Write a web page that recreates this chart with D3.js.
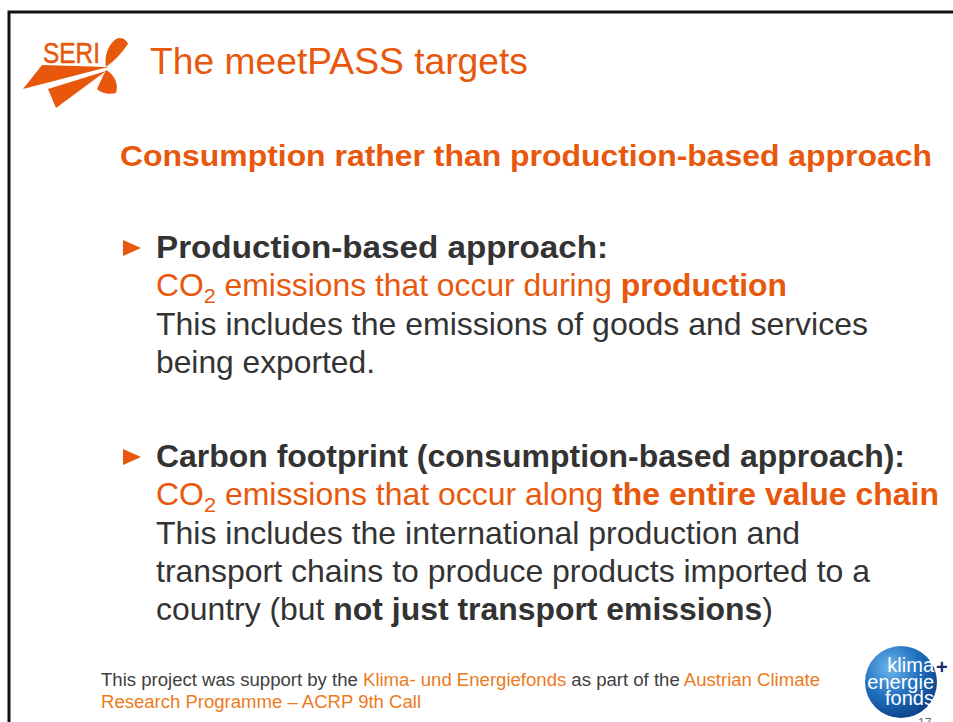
<!DOCTYPE html>
<html><head><meta charset="utf-8">
<script src="https://cdn.jsdelivr.net/npm/d3@7"></script>
<style>html,body{margin:0;padding:0;background:#fff;}svg{display:block;font-family:"Liberation Sans",Arial,sans-serif;}</style>
</head><body>
<script>
// ---- content ----
const titleText = "The meetPASS targets";
const subtitleText = "Consumption rather than production-based approach";
// segments: [text, style]
const bullet1 = [
  [["Production-based approach:", "b"]],
  [["CO", "o"], ["2", "sub"], [" emissions that occur during ", "o"], ["production", "ob"]],
  [["This includes the emissions of goods and services", "n"]],
  [["being exported.", "n"]]
];
const bullet2 = [
  [["Carbon footprint (consumption-based approach):", "b"]],
  [["CO", "o"], ["2", "sub"], [" emissions that occur along ", "o"], ["the entire value chain", "ob"]],
  [["This includes the international production and", "n"]],
  [["transport chains to produce products imported to a", "n"]],
  [["country (but ", "n"], ["not just transport emissions", "b"], [")", "n"]]
];
const footer = [
  [["This project was support by the ", "g"], ["Klima- und Energiefonds", "fo"], [" as part of the ", "g"], ["Austrian Climate", "fo"]],
  [["Research Programme \u2013 ACRP 9th Call", "fo"]]
];
const logoWords = ["klima", "energie", "fonds"];
const pageNumber = "17";

// ---- layout (line widths in px as measured on the slide) ----
const bullet1Widths = [452, 631, 712, 219];
const bullet2Widths = [749, 783, 644, 714, 617];
const footerWidths = [719, 320];

const W = 953, H = 722;
const ORANGE = "#e8580c", DARK = "#333333", FOOT_OR = "#ec7a1c", FOOT_G = "#404040";
const styles = {
  b: {fill: DARK, weight: "bold"},
  n: {fill: DARK, weight: "normal"},
  o: {fill: ORANGE, weight: "normal"},
  ob: {fill: ORANGE, weight: "bold"},
  sub: {fill: ORANGE, weight: "normal", sub: true},
  g: {fill: FOOT_G, weight: "normal"},
  fo: {fill: FOOT_OR, weight: "normal"}
};

const svg = d3.select("body").append("svg").attr("width", W).attr("height", H);
svg.append("rect").attr("width", W).attr("height", H).attr("fill", "#fff");

// slide border
svg.append("path").attr("d", `M9,${H + 5}V12H${W + 5}`).attr("fill", "none")
  .attr("stroke", "#111").attr("stroke-width", 3);

// title + subtitle
svg.append("text").attr("x", 150).attr("y", 74).attr("font-size", 36.5).attr("fill", ORANGE)
  .attr("textLength", 378).attr("lengthAdjust", "spacingAndGlyphs").text(titleText);
svg.append("text").attr("x", 120).attr("y", 166).attr("font-size", 29.5).attr("font-weight", "bold")
  .attr("fill", ORANGE).attr("textLength", 812).attr("lengthAdjust", "spacingAndGlyphs").text(subtitleText);

function drawLine(g, segs, x, y, size, width) {
  const t = g.append("text").attr("x", x).attr("y", y).attr("font-size", size);
  let prevSub = false;
  segs.forEach(([txt, st]) => {
    const s = styles[st];
    const ts = t.append("tspan").attr("fill", s.fill).attr("font-weight", s.weight).text(txt);
    if (s.sub) ts.attr("font-size", size * 0.68).attr("dy", size * 0.22);
    else if (prevSub) ts.attr("dy", -size * 0.22);
    prevSub = !!s.sub;
  });
  if (width) t.attr("textLength", width).attr("lengthAdjust", "spacingAndGlyphs");
  return t;
}

const lineH = 38.3;
function drawBullet(lines, widths, y0) {
  const g = svg.append("g");
  g.append("path").attr("d", `M123,${y0 - 18}L141,${y0 - 10}L123,${y0 - 2}Z`).attr("fill", ORANGE);
  lines.forEach((segs, i) => drawLine(g, segs, 156, y0 + i * lineH, 30.5, widths[i]));
}
drawBullet(bullet1, bullet1Widths, 258);
drawBullet(bullet2, bullet2Widths, 467);

footer.forEach((segs, i) => drawLine(svg, segs, 101, 686 + i * 22, 17.5, footerWidths[i]));

// SERI logo
const logo = svg.append("g").attr("fill", ORANGE);
logo.append("path").attr("d", "M42,65 L108,67 L23,89 Z");
logo.append("path").attr("d", "M48,89 L106,71 L56,108 Z");
logo.append("path").attr("d", "M106,67 C104,56 108,45 116,39 C121,36 127,40 128,44 C122,53 114,61 106,67 Z");
logo.append("path").attr("d", "M106,70 C114,74 119,84 116,93 C109,95 101,93 97,89 C100,82 103,76 106,70 Z");
svg.append("text").attr("x", 43).attr("y", 63).attr("font-size", 29).attr("fill", ORANGE)
  .attr("stroke", ORANGE).attr("stroke-width", 0.5)
  .attr("textLength", 57).attr("lengthAdjust", "spacingAndGlyphs").text("SERI");

// klima energie fonds logo
const defs = svg.append("defs");
const grad = defs.append("radialGradient").attr("id", "kg").attr("cx", "35%").attr("cy", "30%").attr("r", "75%");
grad.append("stop").attr("offset", "0%").attr("stop-color", "#6fb6ea");
grad.append("stop").attr("offset", "55%").attr("stop-color", "#1f6fbf");
grad.append("stop").attr("offset", "100%").attr("stop-color", "#0d3f86");
svg.append("circle").attr("cx", 901).attr("cy", 682).attr("r", 36).attr("fill", "url(#kg)");
const kt = svg.append("text").attr("text-anchor", "end").attr("font-size", 20).attr("fill", "#fff");
logoWords.forEach((w, i) => {
  kt.append("tspan").attr("x", 934).attr("y", 672 + i * 16.5).text(w);
});
svg.append("text").attr("x", 936).attr("y", 674).attr("font-size", 20).attr("font-weight", "bold")
  .attr("fill", "#1b2e6b").text("+");
svg.append("text").attr("x", 918).attr("y", 727).attr("font-size", 12).attr("fill", "#666").text(pageNumber);
</script>
</body></html>
